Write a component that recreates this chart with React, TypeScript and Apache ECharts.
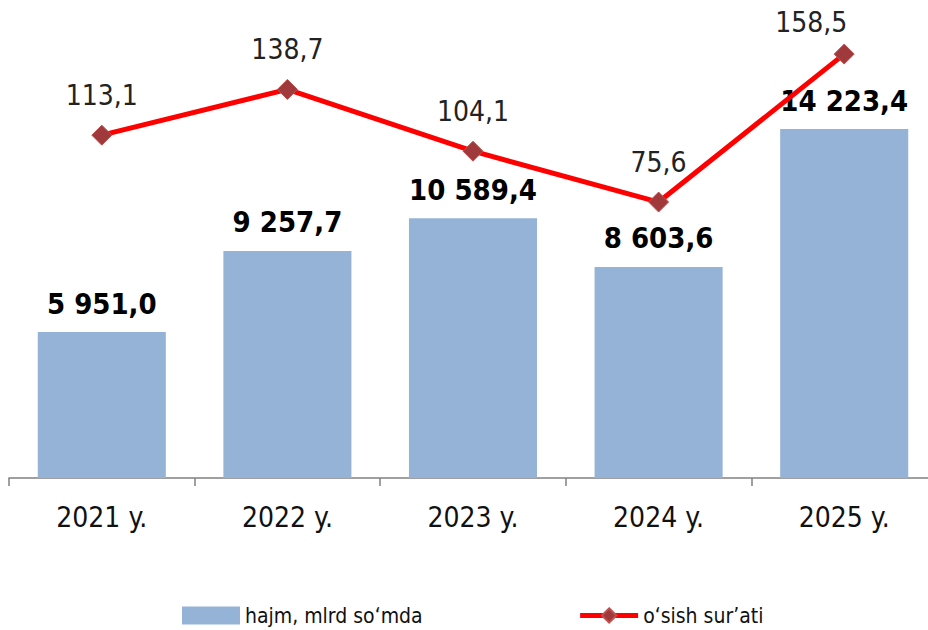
import React, { useEffect, useRef } from "react";
import * as echarts from "echarts";

const categories = ["2021 y.", "2022 y.", "2023 y.", "2024 y.", "2025 y."];
const volumes = [5951.0, 9257.7, 10589.4, 8603.6, 14223.4];
const growth = [113.1, 138.7, 104.1, 75.6, 158.5];
const seriesNames = ["hajm, mlrd so‘mda", "o‘sish sur’ati"];

const FONT = "'Liberation Sans Narrow', 'DejaVu Sans Condensed', 'Roboto Condensed', Roboto, sans-serif";

function fmt(v: number): string {
  const [i, d] = v.toFixed(1).split(".");
  const int = i.replace(/\B(?=(\d{3})+(?!\d))/g, " ");
  return int + "," + d;
}

export default function App() {
  const ref = useRef<HTMLDivElement>(null);
  useEffect(() => {
    if (!ref.current) return;
    const chart = echarts.init(ref.current, null, { renderer: "svg" });
    chart.setOption({
      animation: false,
      textStyle: { fontFamily: FONT },
      grid: { left: 9, width: 928, top: 30, height: 448, containLabel: false, outerBoundsMode: "none" },
      legend: {
        left: 177,
        top: 600,
        itemWidth: 58,
        itemHeight: 18,
        itemGap: 155,
        textStyle: { fontFamily: FONT, fontSize: 21, color: "#111" },
        data: [
          { name: seriesNames[0], icon: "rect" },
          { name: seriesNames[1], lineStyle: { width: 5, color: "#FF0000" } },
        ],
      },
      xAxis: {
        type: "category",
        data: categories,
        axisLine: { show: true, lineStyle: { color: "#808080", width: 1.5 } },
        axisTick: { show: true, alignWithLabel: false, length: 8, lineStyle: { color: "#808080", width: 1.5 } },
        axisLabel: { fontFamily: FONT, fontSize: 28, color: "#111", margin: 25 },
      },
      yAxis: [
        { type: "value", min: 0, max: 18263, show: false, splitLine: { show: false } },
        { type: "value", min: -79, max: 172, show: false, splitLine: { show: false } },
      ],
      series: [
        {
          name: seriesNames[0],
          type: "bar",
          data: volumes,
          barCategoryGap: "31%",
          itemStyle: { color: "#95B3D7" },
          label: {
            show: true,
            position: "top",
            distance: 14,
            fontFamily: FONT,
            fontSize: 29,
            fontWeight: "bold",
            color: "#000",
            formatter: (p: any) => fmt(p.value),
          },
        },
        {
          name: seriesNames[1],
          type: "line",
          yAxisIndex: 1,
          data: growth.map((v, i) =>
            i === growth.length - 1 ? { value: v, label: { offset: [-33, 8] } } : v
          ),
          symbol: "diamond",
          symbolSize: 20,
          clip: false,
          lineStyle: { color: "#FF0000", width: 5 },
          itemStyle: { color: "#A0393B", borderColor: "#C0504D", borderWidth: 1 },
          z: 5,
          label: {
            show: true,
            position: "top",
            distance: 15,
            fontFamily: FONT,
            fontSize: 28,
            color: "#222",
            formatter: (p: any) => fmt(p.value),
          },
        },
      ],
    });
    return () => chart.dispose();
  }, []);
  return <div ref={ref} style={{ width: 928, height: 630, position: "absolute", left: 0, top: 0 }} />;
}
